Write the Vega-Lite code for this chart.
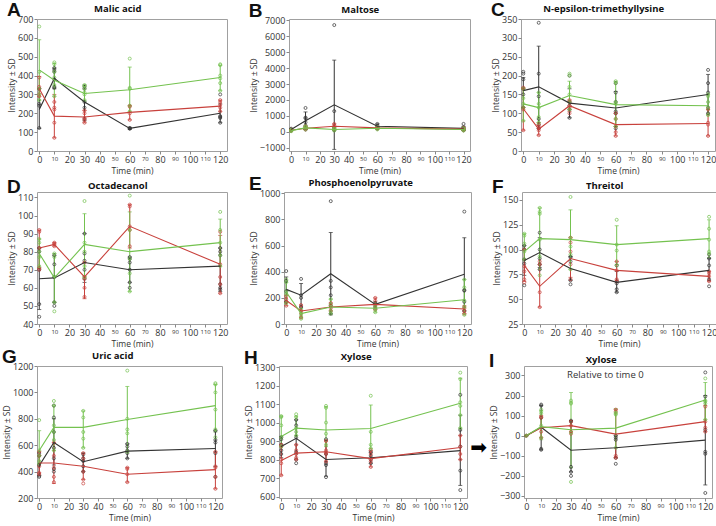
{
"$schema": "https://vega.github.io/schema/vega-lite/v6.json",
"padding": {"left": 1, "top": 1, "right": 0, "bottom": 0},
"background": "white",
"datasets": {"d": [
{"p":"A","g":"K","t":0,"m":220,"lo":120,"hi":330,"pts":[122,240,250,330]},
{"p":"A","g":"K","t":10,"m":385,"lo":330,"hi":440,"pts":[335,340,380,420,430,440]},
{"p":"A","g":"K","t":30,"m":260,"lo":160,"hi":350,"pts":[170,230,260,330,340]},
{"p":"A","g":"K","t":60,"m":120,"lo":114,"hi":126,"pts":[118,120,122]},
{"p":"A","g":"K","t":120,"m":200,"lo":150,"hi":250,"pts":[150,175,180,185,300]},
{"p":"A","g":"R","t":0,"m":330,"lo":290,"hi":395,"pts":[290,300,330,340,390]},
{"p":"A","g":"R","t":10,"m":185,"lo":70,"hi":300,"pts":[70,150,220,230,260]},
{"p":"A","g":"R","t":30,"m":180,"lo":150,"hi":215,"pts":[150,165,175,200,215]},
{"p":"A","g":"R","t":60,"m":205,"lo":165,"hi":240,"pts":[165,200,235,240]},
{"p":"A","g":"R","t":120,"m":238,"lo":210,"hi":270,"pts":[210,230,245,260,270]},
{"p":"A","g":"G","t":0,"m":430,"lo":270,"hi":590,"pts":[270,300,330,420,660]},
{"p":"A","g":"G","t":10,"m":375,"lo":290,"hi":465,"pts":[290,350,390,420,460,470]},
{"p":"A","g":"G","t":30,"m":305,"lo":265,"hi":345,"pts":[270,300,310,330,345,350]},
{"p":"A","g":"G","t":60,"m":325,"lo":210,"hi":445,"pts":[210,240,330,335,490]},
{"p":"A","g":"G","t":120,"m":390,"lo":320,"hi":455,"pts":[320,360,385,400,455,460]},
{"p":"B","g":"K","t":0,"m":150,"lo":100,"hi":200,"pts":[80,150,200]},
{"p":"B","g":"K","t":10,"m":700,"lo":150,"hi":1250,"pts":[150,250,400,600,850,900,1500]},
{"p":"B","g":"K","t":30,"m":1700,"lo":-1100,"hi":4500,"pts":[100,200,300,1300,6700]},
{"p":"B","g":"K","t":60,"m":350,"lo":200,"hi":500,"pts":[200,300,400,500]},
{"p":"B","g":"K","t":120,"m":220,"lo":100,"hi":350,"pts":[100,150,200,300,500]},
{"p":"B","g":"R","t":0,"m":100,"lo":60,"hi":140,"pts":[60,100,140]},
{"p":"B","g":"R","t":10,"m":230,"lo":150,"hi":320,"pts":[150,200,300,350]},
{"p":"B","g":"R","t":30,"m":350,"lo":150,"hi":500,"pts":[150,300,400,500]},
{"p":"B","g":"R","t":60,"m":250,"lo":200,"hi":300,"pts":[200,250,300]},
{"p":"B","g":"R","t":120,"m":170,"lo":100,"hi":250,"pts":[100,150,200,250]},
{"p":"B","g":"G","t":0,"m":80,"lo":40,"hi":130,"pts":[40,80,130]},
{"p":"B","g":"G","t":10,"m":250,"lo":150,"hi":350,"pts":[150,250,300,350]},
{"p":"B","g":"G","t":30,"m":150,"lo":80,"hi":250,"pts":[80,150,200,250]},
{"p":"B","g":"G","t":60,"m":230,"lo":150,"hi":300,"pts":[150,230,300]},
{"p":"B","g":"G","t":120,"m":150,"lo":80,"hi":230,"pts":[80,130,180,230]},
{"p":"C","g":"K","t":0,"m":160,"lo":115,"hi":195,"pts":[115,150,165,190,205,210]},
{"p":"C","g":"K","t":10,"m":170,"lo":60,"hi":278,"pts":[60,70,85,145,205,340]},
{"p":"C","g":"K","t":30,"m":127,"lo":88,"hi":165,"pts":[88,110,120,130,200]},
{"p":"C","g":"K","t":60,"m":114,"lo":65,"hi":158,"pts":[60,100,105,130,155,180]},
{"p":"C","g":"K","t":120,"m":150,"lo":98,"hi":203,"pts":[100,115,155,180,215]},
{"p":"C","g":"R","t":0,"m":112,"lo":55,"hi":168,"pts":[55,110,115,165,168]},
{"p":"C","g":"R","t":10,"m":58,"lo":42,"hi":75,"pts":[42,55,60,65,70]},
{"p":"C","g":"R","t":30,"m":120,"lo":105,"hi":135,"pts":[100,115,120,130,135]},
{"p":"C","g":"R","t":60,"m":70,"lo":40,"hi":100,"pts":[40,50,65,85,100]},
{"p":"C","g":"R","t":120,"m":73,"lo":40,"hi":110,"pts":[40,70,75,110]},
{"p":"C","g":"G","t":0,"m":125,"lo":80,"hi":165,"pts":[80,115,125,140,165]},
{"p":"C","g":"G","t":10,"m":115,"lo":75,"hi":155,"pts":[75,90,115,125,155]},
{"p":"C","g":"G","t":30,"m":147,"lo":110,"hi":185,"pts":[110,130,150,170,200,205]},
{"p":"C","g":"G","t":60,"m":123,"lo":65,"hi":185,"pts":[65,85,125,130,180,185]},
{"p":"C","g":"G","t":120,"m":120,"lo":95,"hi":150,"pts":[95,115,130,145,150]},
{"p":"D","g":"K","t":0,"m":65,"lo":48,"hi":82,"pts":[44,51,70,80,82]},
{"p":"D","g":"K","t":10,"m":65.5,"lo":52,"hi":78,"pts":[50,52,66,73,78]},
{"p":"D","g":"K","t":30,"m":74,"lo":63,"hi":90,"pts":[65,70,75,79,90]},
{"p":"D","g":"K","t":60,"m":70,"lo":63,"hi":77,"pts":[60,63,70,74,76,77]},
{"p":"D","g":"K","t":120,"m":72,"lo":58,"hi":82,"pts":[59,60,62,78,80,82]},
{"p":"D","g":"R","t":0,"m":82,"lo":71,"hi":92,"pts":[70,71,82,91,92]},
{"p":"D","g":"R","t":10,"m":84,"lo":83,"hi":85,"pts":[83,84,84.5,85]},
{"p":"D","g":"R","t":30,"m":66,"lo":54,"hi":74,"pts":[55,60,65,66,74]},
{"p":"D","g":"R","t":60,"m":94,"lo":82,"hi":106,"pts":[83,92,94,105,106]},
{"p":"D","g":"R","t":120,"m":73,"lo":57,"hi":89,"pts":[57,62,66,73,91]},
{"p":"D","g":"G","t":0,"m":79,"lo":71,"hi":87,"pts":[72,77,80,85,87]},
{"p":"D","g":"G","t":10,"m":65.5,"lo":52,"hi":79,"pts":[47,52,66,77,79]},
{"p":"D","g":"G","t":30,"m":84,"lo":66,"hi":101,"pts":[66,72,80,85,108]},
{"p":"D","g":"G","t":60,"m":80,"lo":58,"hi":102,"pts":[58,68,76,92,111]},
{"p":"D","g":"G","t":120,"m":85,"lo":72,"hi":98,"pts":[72,78,85,92,102]},
{"p":"E","g":"K","t":0,"m":265,"lo":170,"hi":360,"pts":[170,250,330,405]},
{"p":"E","g":"K","t":10,"m":220,"lo":130,"hi":310,"pts":[130,200,220,345]},
{"p":"E","g":"K","t":30,"m":385,"lo":70,"hi":700,"pts":[80,140,220,280,330,940]},
{"p":"E","g":"K","t":60,"m":150,"lo":120,"hi":170,"pts":[130,150,160]},
{"p":"E","g":"K","t":120,"m":380,"lo":100,"hi":660,"pts":[100,170,255,260,860]},
{"p":"E","g":"R","t":0,"m":180,"lo":140,"hi":220,"pts":[140,170,190,210]},
{"p":"E","g":"R","t":10,"m":100,"lo":50,"hi":145,"pts":[50,80,100,145]},
{"p":"E","g":"R","t":30,"m":130,"lo":100,"hi":160,"pts":[100,120,140,160]},
{"p":"E","g":"R","t":60,"m":150,"lo":110,"hi":200,"pts":[110,140,180,200]},
{"p":"E","g":"R","t":120,"m":115,"lo":80,"hi":140,"pts":[80,100,120,130]},
{"p":"E","g":"G","t":0,"m":245,"lo":160,"hi":320,"pts":[160,230,250,320,340]},
{"p":"E","g":"G","t":10,"m":80,"lo":40,"hi":120,"pts":[40,60,80,110]},
{"p":"E","g":"G","t":30,"m":130,"lo":80,"hi":190,"pts":[80,100,150,190]},
{"p":"E","g":"G","t":60,"m":120,"lo":90,"hi":150,"pts":[90,110,130,150]},
{"p":"E","g":"G","t":120,"m":185,"lo":70,"hi":340,"pts":[70,130,180,280,340]},
{"p":"F","g":"K","t":0,"m":89,"lo":74,"hi":104,"pts":[64,86,90,100,104]},
{"p":"F","g":"K","t":10,"m":97,"lo":82,"hi":112,"pts":[80,85,91,100,117]},
{"p":"F","g":"K","t":30,"m":81,"lo":69,"hi":93,"pts":[65,69,88,92,93]},
{"p":"F","g":"K","t":60,"m":67,"lo":57,"hi":78,"pts":[57,60,66,68,84]},
{"p":"F","g":"K","t":120,"m":79,"lo":69,"hi":91,"pts":[63,70,84,91,95]},
{"p":"F","g":"R","t":0,"m":84,"lo":68,"hi":100,"pts":[67,70,78,83,100]},
{"p":"F","g":"R","t":10,"m":63,"lo":42,"hi":85,"pts":[42,57,85,88]},
{"p":"F","g":"R","t":30,"m":91,"lo":72,"hi":112,"pts":[70,85,98,107,112]},
{"p":"F","g":"R","t":60,"m":79,"lo":69,"hi":88,"pts":[68,70,79,88]},
{"p":"F","g":"R","t":120,"m":73,"lo":68,"hi":78,"pts":[68,73,76,78]},
{"p":"F","g":"G","t":0,"m":98,"lo":90,"hi":116,"pts":[90,98,106,114,116]},
{"p":"F","g":"G","t":10,"m":111,"lo":80,"hi":142,"pts":[74,93,110,136,138,142]},
{"p":"F","g":"G","t":30,"m":110,"lo":80,"hi":140,"pts":[80,95,103,112,153]},
{"p":"F","g":"G","t":60,"m":105,"lo":85,"hi":124,"pts":[84,99,105,130]},
{"p":"F","g":"G","t":120,"m":111,"lo":92,"hi":130,"pts":[96,98,110,121,133]},
{"p":"G","g":"K","t":0,"m":445,"lo":370,"hi":520,"pts":[360,370,450,520,540]},
{"p":"G","g":"K","t":10,"m":620,"lo":450,"hi":800,"pts":[400,420,500,580,700,810,900]},
{"p":"G","g":"K","t":30,"m":475,"lo":400,"hi":540,"pts":[400,440,480,500,530]},
{"p":"G","g":"K","t":60,"m":555,"lo":500,"hi":610,"pts":[500,540,560,590,610]},
{"p":"G","g":"K","t":120,"m":575,"lo":440,"hi":710,"pts":[360,540,620,640,710]},
{"p":"G","g":"R","t":0,"m":465,"lo":390,"hi":550,"pts":[380,390,440,520,550]},
{"p":"G","g":"R","t":10,"m":465,"lo":310,"hi":620,"pts":[320,360,430,520,620]},
{"p":"G","g":"R","t":30,"m":440,"lo":340,"hi":540,"pts":[310,340,400,500,540]},
{"p":"G","g":"R","t":60,"m":380,"lo":320,"hi":430,"pts":[320,380,420,430]},
{"p":"G","g":"R","t":120,"m":415,"lo":270,"hi":550,"pts":[270,360,430,440,550]},
{"p":"G","g":"G","t":0,"m":560,"lo":460,"hi":710,"pts":[460,480,520,560,790]},
{"p":"G","g":"G","t":10,"m":735,"lo":560,"hi":900,"pts":[560,640,700,750,900,935]},
{"p":"G","g":"G","t":30,"m":735,"lo":580,"hi":860,"pts":[580,650,700,810,860]},
{"p":"G","g":"G","t":60,"m":795,"lo":550,"hi":1045,"pts":[550,690,720,800,1165]},
{"p":"G","g":"G","t":120,"m":900,"lo":700,"hi":1060,"pts":[660,720,870,1000,1060,1070]},
{"p":"H","g":"K","t":0,"m":870,"lo":810,"hi":925,"pts":[830,850,880,910,920]},
{"p":"H","g":"K","t":10,"m":915,"lo":830,"hi":1015,"pts":[780,800,840,920,985,1015]},
{"p":"H","g":"K","t":30,"m":800,"lo":710,"hi":905,"pts":[705,770,780,830,910]},
{"p":"H","g":"K","t":60,"m":810,"lo":780,"hi":840,"pts":[780,800,820,840]},
{"p":"H","g":"K","t":120,"m":848,"lo":660,"hi":1040,"pts":[635,740,870,960,1150]},
{"p":"H","g":"R","t":0,"m":795,"lo":715,"hi":880,"pts":[715,780,800,870,880]},
{"p":"H","g":"R","t":10,"m":835,"lo":800,"hi":880,"pts":[800,810,830,850,880]},
{"p":"H","g":"R","t":30,"m":842,"lo":790,"hi":900,"pts":[790,830,840,850,900]},
{"p":"H","g":"R","t":60,"m":805,"lo":760,"hi":850,"pts":[760,790,800,830,850]},
{"p":"H","g":"R","t":120,"m":865,"lo":800,"hi":930,"pts":[800,830,870,930]},
{"p":"H","g":"G","t":0,"m":925,"lo":870,"hi":1035,"pts":[870,920,985,1030,1035]},
{"p":"H","g":"G","t":10,"m":970,"lo":930,"hi":1035,"pts":[930,950,970,1030,1045]},
{"p":"H","g":"G","t":30,"m":960,"lo":870,"hi":1085,"pts":[880,940,1000,1080,1090]},
{"p":"H","g":"G","t":60,"m":968,"lo":860,"hi":1095,"pts":[860,880,950,1145]},
{"p":"H","g":"G","t":120,"m":1105,"lo":970,"hi":1240,"pts":[970,1040,1090,1110,1235,1270]},
{"p":"I","g":"K","t":0,"m":0,"lo":0,"hi":0,"pts":[0]},
{"p":"I","g":"K","t":10,"m":42,"lo":-70,"hi":150,"pts":[-70,-65,90,150,155]},
{"p":"I","g":"K","t":30,"m":-72,"lo":-180,"hi":75,"pts":[-200,-180,-155,70,75]},
{"p":"I","g":"K","t":60,"m":-60,"lo":-110,"hi":0,"pts":[-140,-110,-20,-10,0]},
{"p":"I","g":"K","t":120,"m":-22,"lo":-245,"hi":200,"pts":[-285,-90,-80,30,195,315]},
{"p":"I","g":"R","t":0,"m":0,"lo":0,"hi":0,"pts":[0]},
{"p":"I","g":"R","t":10,"m":40,"lo":-10,"hi":100,"pts":[-10,20,90,95]},
{"p":"I","g":"R","t":30,"m":50,"lo":20,"hi":75,"pts":[10,20,50,70]},
{"p":"I","g":"R","t":60,"m":8,"lo":-110,"hi":130,"pts":[-110,-100,120,130]},
{"p":"I","g":"R","t":120,"m":70,"lo":20,"hi":150,"pts":[20,40,70,145]},
{"p":"I","g":"G","t":0,"m":0,"lo":0,"hi":0,"pts":[0]},
{"p":"I","g":"G","t":10,"m":45,"lo":-20,"hi":125,"pts":[-10,50,110,120,130]},
{"p":"I","g":"G","t":30,"m":30,"lo":-160,"hi":215,"pts":[-230,15,160,165,175]},
{"p":"I","g":"G","t":60,"m":38,"lo":-60,"hi":135,"pts":[-60,105,110,115]},
{"p":"I","g":"G","t":120,"m":178,"lo":80,"hi":265,"pts":[80,160,170,175,285]},
{"p":"N","label":"Relative to time 0"}
]},
"data": {"name": "d"},
"spacing": 0,
"vconcat": [
{"spacing": 19, "hconcat": [
{"title": {"text": "A", "anchor": "start", "fontSize": 19, "fontWeight": "bold", "offset": -17, "font": "Liberation Sans"},
 "vconcat": [{"title": "Malic acid", "width": 190, "height": 132,
  "transform": [{"filter": "datum.p == 'A'"}],
  "encoding": {
   "x": {"field": "t", "type": "quantitative", "scale": {"domain": [-1.5, 124.5], "nice": false}, "axis": {"title": "Time (min)", "values": [0,10,20,30,40,50,60,70,80,90,100,110,120], "labelFontSize": {"condition": {"test": "indexof([10,50,70,90,110], datum.value) >= 0", "value": 6}, "value": 9}}},
   "color": {"field": "g", "type": "nominal", "scale": {"domain": ["K","R","G"], "range": ["#333333","#c8413c","#74c24f"]}, "legend": null}},
  "layer": [
   {"mark": {"type": "errorbar", "ticks": {"size": 4}}, "encoding": {"y": {"field": "lo", "type": "quantitative", "scale": {"domain": [0,700], "nice": false, "zero": false}, "axis": {"title": "Intensity ± SD", "tickCount": 20, "values": [0,100,200,300,400,500,600,700]}}, "y2": {"field": "hi"}}},
   {"transform": [{"flatten": ["pts"]}], "mark": "point", "encoding": {"y": {"field": "pts", "type": "quantitative", "axis": {"title": "Intensity ± SD", "tickCount": 20, "values": [0,100,200,300,400,500,600,700]}}}},
   {"mark": "line", "encoding": {"y": {"field": "m", "type": "quantitative", "axis": {"title": "Intensity ± SD", "tickCount": 20, "values": [0,100,200,300,400,500,600,700]}}}}
  ]}]},
{"title": {"text": "B", "anchor": "start", "fontSize": 19, "fontWeight": "bold", "offset": -17, "font": "Liberation Sans"},
 "vconcat": [{"title": "Maltose", "width": 181, "height": 132,
  "transform": [{"filter": "datum.p == 'B'"}],
  "encoding": {
   "x": {"field": "t", "type": "quantitative", "scale": {"domain": [-1.5, 124.5], "nice": false}, "axis": {"title": "Time (min)", "values": [0,10,20,30,40,50,60,70,80,90,100,110,120], "labelFontSize": {"condition": {"test": "indexof([10,50,70,90,110], datum.value) >= 0", "value": 6}, "value": 9}}},
   "color": {"field": "g", "type": "nominal", "scale": {"domain": ["K","R","G"], "range": ["#333333","#c8413c","#74c24f"]}, "legend": null}},
  "layer": [
   {"mark": {"type": "errorbar", "ticks": {"size": 4}}, "encoding": {"y": {"field": "lo", "type": "quantitative", "scale": {"domain": [-1200,7080], "nice": false, "zero": false}, "axis": {"title": "Intensity ± SD", "tickCount": 20, "format": "d", "values": [-1000,0,1000,2000,3000,4000,5000,6000,7000]}}, "y2": {"field": "hi"}}},
   {"transform": [{"flatten": ["pts"]}], "mark": "point", "encoding": {"y": {"field": "pts", "type": "quantitative", "axis": {"title": "Intensity ± SD", "tickCount": 20, "format": "d", "values": [-1000,0,1000,2000,3000,4000,5000,6000,7000]}}}},
   {"mark": "line", "encoding": {"y": {"field": "m", "type": "quantitative", "axis": {"title": "Intensity ± SD", "tickCount": 20, "format": "d", "values": [-1000,0,1000,2000,3000,4000,5000,6000,7000]}}}}
  ]}]},
{"title": {"text": "C", "anchor": "start", "fontSize": 19, "fontWeight": "bold", "offset": -17, "font": "Liberation Sans"},
 "vconcat": [{"title": "N-epsilon-trimethyllysine", "width": 194, "height": 132,
  "transform": [{"filter": "datum.p == 'C'"}],
  "encoding": {
   "x": {"field": "t", "type": "quantitative", "scale": {"domain": [-1.5, 124.5], "nice": false}, "axis": {"title": "Time (min)", "values": [0,10,20,30,40,50,60,70,80,90,100,110,120], "labelFontSize": {"condition": {"test": "indexof([10,50,70,90,110], datum.value) >= 0", "value": 6}, "value": 9}}},
   "color": {"field": "g", "type": "nominal", "scale": {"domain": ["K","R","G"], "range": ["#333333","#c8413c","#74c24f"]}, "legend": null}},
  "layer": [
   {"mark": {"type": "errorbar", "ticks": {"size": 4}}, "encoding": {"y": {"field": "lo", "type": "quantitative", "scale": {"domain": [0,350], "nice": false, "zero": false}, "axis": {"title": "Intensity ± SD", "tickCount": 20, "values": [0,50,100,150,200,250,300,350]}}, "y2": {"field": "hi"}}},
   {"transform": [{"flatten": ["pts"]}], "mark": "point", "encoding": {"y": {"field": "pts", "type": "quantitative", "axis": {"title": "Intensity ± SD", "tickCount": 20, "values": [0,50,100,150,200,250,300,350]}}}},
   {"mark": "line", "encoding": {"y": {"field": "m", "type": "quantitative", "axis": {"title": "Intensity ± SD", "tickCount": 20, "values": [0,50,100,150,200,250,300,350]}}}}
  ]}]}
]},
{"spacing": 19, "hconcat": [
{"title": {"text": "D", "anchor": "start", "fontSize": 19, "fontWeight": "bold", "offset": -17, "font": "Liberation Sans"},
 "vconcat": [{"title": "Octadecanol", "width": 190, "height": 132,
  "transform": [{"filter": "datum.p == 'D'"}],
  "encoding": {
   "x": {"field": "t", "type": "quantitative", "scale": {"domain": [-1.5, 124.5], "nice": false}, "axis": {"title": "Time (min)", "values": [0,10,20,30,40,50,60,70,80,90,100,110,120], "labelFontSize": {"condition": {"test": "indexof([10,50,70,90,110], datum.value) >= 0", "value": 6}, "value": 9}}},
   "color": {"field": "g", "type": "nominal", "scale": {"domain": ["K","R","G"], "range": ["#333333","#c8413c","#74c24f"]}, "legend": null}},
  "layer": [
   {"mark": {"type": "errorbar", "ticks": {"size": 4}}, "encoding": {"y": {"field": "lo", "type": "quantitative", "scale": {"domain": [40,113], "nice": false, "zero": false}, "axis": {"title": "Intensity ± SD", "tickCount": 20, "values": [40,50,60,70,80,90,100,110]}}, "y2": {"field": "hi"}}},
   {"transform": [{"flatten": ["pts"]}], "mark": "point", "encoding": {"y": {"field": "pts", "type": "quantitative", "axis": {"title": "Intensity ± SD", "tickCount": 20, "values": [40,50,60,70,80,90,100,110]}}}},
   {"mark": "line", "encoding": {"y": {"field": "m", "type": "quantitative", "axis": {"title": "Intensity ± SD", "tickCount": 20, "values": [40,50,60,70,80,90,100,110]}}}}
  ]}]},
{"title": {"text": "E", "anchor": "start", "fontSize": 19, "fontWeight": "bold", "offset": -17, "font": "Liberation Sans"},
 "vconcat": [{"title": "Phosphoenolpyruvate", "width": 187, "height": 132,
  "transform": [{"filter": "datum.p == 'E'"}],
  "encoding": {
   "x": {"field": "t", "type": "quantitative", "scale": {"domain": [-1.5, 124.5], "nice": false}, "axis": {"title": "Time (min)", "values": [0,10,20,30,40,50,60,70,80,90,100,110,120], "labelFontSize": {"condition": {"test": "indexof([10,50,70,90,110], datum.value) >= 0", "value": 6}, "value": 9}}},
   "color": {"field": "g", "type": "nominal", "scale": {"domain": ["K","R","G"], "range": ["#333333","#c8413c","#74c24f"]}, "legend": null}},
  "layer": [
   {"mark": {"type": "errorbar", "ticks": {"size": 4}}, "encoding": {"y": {"field": "lo", "type": "quantitative", "scale": {"domain": [0,1010], "nice": false, "zero": false}, "axis": {"title": "Intensity ± SD", "tickCount": 20, "format": "d", "values": [0,200,400,600,800,1000]}}, "y2": {"field": "hi"}}},
   {"transform": [{"flatten": ["pts"]}], "mark": "point", "encoding": {"y": {"field": "pts", "type": "quantitative", "axis": {"title": "Intensity ± SD", "tickCount": 20, "format": "d", "values": [0,200,400,600,800,1000]}}}},
   {"mark": "line", "encoding": {"y": {"field": "m", "type": "quantitative", "axis": {"title": "Intensity ± SD", "tickCount": 20, "format": "d", "values": [0,200,400,600,800,1000]}}}}
  ]}]},
{"title": {"text": "F", "anchor": "start", "fontSize": 19, "fontWeight": "bold", "offset": -17, "font": "Liberation Sans"},
 "vconcat": [{"title": "Threitol", "width": 194, "height": 132,
  "transform": [{"filter": "datum.p == 'F'"}],
  "encoding": {
   "x": {"field": "t", "type": "quantitative", "scale": {"domain": [-1.5, 124.5], "nice": false}, "axis": {"title": "Time (min)", "values": [0,10,20,30,40,50,60,70,80,90,100,110,120], "labelFontSize": {"condition": {"test": "indexof([10,50,70,90,110], datum.value) >= 0", "value": 6}, "value": 9}}},
   "color": {"field": "g", "type": "nominal", "scale": {"domain": ["K","R","G"], "range": ["#333333","#c8413c","#74c24f"]}, "legend": null}},
  "layer": [
   {"mark": {"type": "errorbar", "ticks": {"size": 4}}, "encoding": {"y": {"field": "lo", "type": "quantitative", "scale": {"domain": [25,158], "nice": false, "zero": false}, "axis": {"title": "Intensity ± SD", "tickCount": 20, "values": [25,50,75,100,125,150]}}, "y2": {"field": "hi"}}},
   {"transform": [{"flatten": ["pts"]}], "mark": "point", "encoding": {"y": {"field": "pts", "type": "quantitative", "axis": {"title": "Intensity ± SD", "tickCount": 20, "values": [25,50,75,100,125,150]}}}},
   {"mark": "line", "encoding": {"y": {"field": "m", "type": "quantitative", "axis": {"title": "Intensity ± SD", "tickCount": 20, "values": [25,50,75,100,125,150]}}}}
  ]}]}
]},
{"spacing": 19, "hconcat": [
{"title": {"text": "G", "anchor": "start", "fontSize": 19, "fontWeight": "bold", "offset": -17, "font": "Liberation Sans"},
 "vconcat": [{"title": "Uric acid", "width": 185, "height": 132,
  "transform": [{"filter": "datum.p == 'G'"}],
  "encoding": {
   "x": {"field": "t", "type": "quantitative", "scale": {"domain": [-1.5, 124.5], "nice": false}, "axis": {"title": "Time (min)", "values": [0,10,20,30,40,50,60,70,80,90,100,110,120], "labelFontSize": {"condition": {"test": "indexof([10,50,70,90,110], datum.value) >= 0", "value": 6}, "value": 9}}},
   "color": {"field": "g", "type": "nominal", "scale": {"domain": ["K","R","G"], "range": ["#333333","#c8413c","#74c24f"]}, "legend": null}},
  "layer": [
   {"mark": {"type": "errorbar", "ticks": {"size": 4}}, "encoding": {"y": {"field": "lo", "type": "quantitative", "scale": {"domain": [200,1200], "nice": false, "zero": false}, "axis": {"title": "Intensity ± SD", "tickCount": 20, "format": "d", "values": [200,400,600,800,1000,1200]}}, "y2": {"field": "hi"}}},
   {"transform": [{"flatten": ["pts"]}], "mark": "point", "encoding": {"y": {"field": "pts", "type": "quantitative", "axis": {"title": "Intensity ± SD", "tickCount": 20, "format": "d", "values": [200,400,600,800,1000,1200]}}}},
   {"mark": "line", "encoding": {"y": {"field": "m", "type": "quantitative", "axis": {"title": "Intensity ± SD", "tickCount": 20, "format": "d", "values": [200,400,600,800,1000,1200]}}}}
  ]}]},
{"spacing": 0, "hconcat": [
{"title": {"text": "H", "anchor": "start", "fontSize": 19, "fontWeight": "bold", "offset": -17, "font": "Liberation Sans"},
 "vconcat": [{"title": "Xylose", "width": 188, "height": 132,
  "transform": [{"filter": "datum.p == 'H'"}],
  "encoding": {
   "x": {"field": "t", "type": "quantitative", "scale": {"domain": [-1.5, 124.5], "nice": false}, "axis": {"title": "Time (min)", "values": [0,10,20,30,40,50,60,70,80,90,100,110,120], "labelFontSize": {"condition": {"test": "indexof([10,50,70,90,110], datum.value) >= 0", "value": 6}, "value": 9}}},
   "color": {"field": "g", "type": "nominal", "scale": {"domain": ["K","R","G"], "range": ["#333333","#c8413c","#74c24f"]}, "legend": null}},
  "layer": [
   {"mark": {"type": "errorbar", "ticks": {"size": 4}}, "encoding": {"y": {"field": "lo", "type": "quantitative", "scale": {"domain": [592,1306], "nice": false, "zero": false}, "axis": {"title": "Intensity ± SD", "tickCount": 20, "format": "d", "values": [600,700,800,900,1000,1100,1200,1300]}}, "y2": {"field": "hi"}}},
   {"transform": [{"flatten": ["pts"]}], "mark": "point", "encoding": {"y": {"field": "pts", "type": "quantitative", "axis": {"title": "Intensity ± SD", "tickCount": 20, "format": "d", "values": [600,700,800,900,1000,1100,1200,1300]}}}},
   {"mark": "line", "encoding": {"y": {"field": "m", "type": "quantitative", "axis": {"title": "Intensity ± SD", "tickCount": 20, "format": "d", "values": [600,700,800,900,1000,1100,1200,1300]}}}}
  ]}]},
{"spacing": 0, "hconcat": [
{"width": 19, "height": 164, "view": {"stroke": null}, "data": {"values": [{"a": "➡"}]},
 "mark": {"type": "text", "fontSize": 20, "font": "DejaVu Sans", "color": "#000000"},
 "encoding": {"text": {"field": "a"}}},
{"title": {"text": "I", "anchor": "start", "fontSize": 19, "fontWeight": "bold", "offset": -17, "font": "Liberation Sans"},
 "vconcat": [{"title": "Xylose", "width": 188, "height": 132,
  "layer": [
   {"transform": [{"filter": "datum.p == 'I'"}], "mark": {"type": "errorbar", "ticks": {"size": 4}}, "encoding": {
     "x": {"field": "t", "type": "quantitative", "scale": {"domain": [-1.5, 124.5], "nice": false}, "axis": {"title": "Time (min)", "tickCount": 20, "values": [0,10,20,30,40,50,60,70,80,90,100,110,120], "labelFontSize": {"condition": {"test": "indexof([10,50,70,90,110], datum.value) >= 0", "value": 6}, "value": 9}}},
     "color": {"field": "g", "type": "nominal", "scale": {"domain": ["K","R","G"], "range": ["#333333","#c8413c","#74c24f"]}, "legend": null}, "y": {"field": "lo", "type": "quantitative", "scale": {"domain": [-310,347], "nice": false, "zero": false}, "axis": {"title": "Intensity ± SD", "tickCount": 20, "format": "d", "values": [-300,-200,-100,0,100,200,300]}}, "y2": {"field": "hi"}}},
   {"transform": [{"filter": "datum.p == 'I'"}, {"flatten": ["pts"]}], "mark": "point", "encoding": {
     "x": {"field": "t", "type": "quantitative", "axis": {"title": "Time (min)", "tickCount": 20, "values": [0,10,20,30,40,50,60,70,80,90,100,110,120], "labelFontSize": {"condition": {"test": "indexof([10,50,70,90,110], datum.value) >= 0", "value": 6}, "value": 9}}},
     "color": {"field": "g", "type": "nominal", "legend": null}, "y": {"field": "pts", "type": "quantitative", "axis": {"title": "Intensity ± SD", "tickCount": 20, "format": "d", "values": [-300,-200,-100,0,100,200,300]}}}},
   {"transform": [{"filter": "datum.p == 'I'"}], "mark": "line", "encoding": {
     "x": {"field": "t", "type": "quantitative", "axis": {"title": "Time (min)", "tickCount": 20, "values": [0,10,20,30,40,50,60,70,80,90,100,110,120], "labelFontSize": {"condition": {"test": "indexof([10,50,70,90,110], datum.value) >= 0", "value": 6}, "value": 9}}},
     "color": {"field": "g", "type": "nominal", "legend": null}, "y": {"field": "m", "type": "quantitative", "axis": {"title": "Intensity ± SD", "tickCount": 20, "format": "d", "values": [-300,-200,-100,0,100,200,300]}}}},
   {"transform": [{"filter": "datum.p == 'N'"}], "mark": {"type": "text", "fontSize": 9.5, "color": "#333333"}, "encoding": {
     "x": {"datum": 53, "type": "quantitative", "axis": {"title": "Time (min)", "tickCount": 20, "values": [0,10,20,30,40,50,60,70,80,90,100,110,120], "labelFontSize": {"condition": {"test": "indexof([10,50,70,90,110], datum.value) >= 0", "value": 6}, "value": 9}}},
     "y": {"datum": 302, "type": "quantitative", "axis": {"title": "Intensity ± SD", "tickCount": 20, "format": "d", "values": [-300,-200,-100,0,100,200,300]}},
     "text": {"field": "label"}}}
  ]}]}
]}
]}
]}
],
"config": {
 "font": "Open Sans",
 "view": {"stroke": "#a0a0a0"},
 "axis": {"grid": false, "domain": false, "tickColor": "#888888", "tickSize": 3, "labelFontSize": 9, "labelColor": "#333333", "titleFontSize": 8.5, "titleFontWeight": "normal", "titleColor": "#333333", "labelPadding": 1, "titlePadding": 1, "labelOverlap": false, "labelBound": false},
 "axisX": {"titlePadding": 2},
 "title": {"fontSize": 9.5, "fontWeight": "bold", "offset": 2, "color": "#111111", "frame": "bounds"},
 "line": {"strokeWidth": 1.1},
 "point": {"size": 9, "strokeWidth": 0.8, "filled": false, "opacity": 0.9}
}
}
